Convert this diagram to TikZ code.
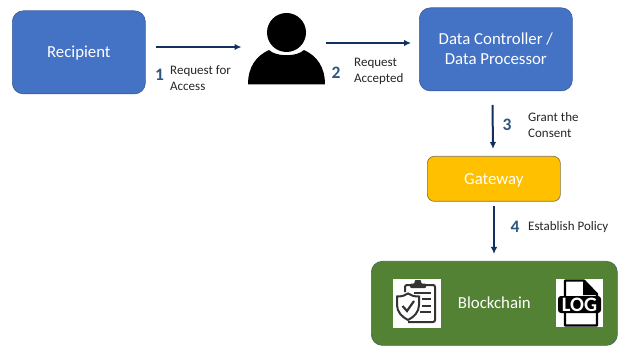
\documentclass[tikz,border=0pt]{standalone}
\usepackage{fontspec}
\setmainfont{Carlito}
\usetikzlibrary{arrows.meta}
\definecolor{boxblue}{HTML}{4472C4}
\definecolor{boxedge}{HTML}{3A5F9E}
\definecolor{gold}{HTML}{FFC000}
\definecolor{goldedge}{HTML}{7F7550}
\definecolor{leaf}{HTML}{548235}
\definecolor{leafedge}{HTML}{3F6A5A}
\definecolor{navy}{HTML}{12305F}
\definecolor{numblue}{HTML}{2F5580}
\definecolor{lab}{HTML}{262626}
\newcommand{\boxline}[1]{\smash{\raisebox{-5.5pt}{#1}}}
\tikzset{
  x=1pt,y=-1pt,
  bigbox/.style={draw=#1,line width=0.7pt,rounded corners=11pt,inner sep=0pt,text=white,font=\fontsize{16.8}{20}\selectfont,align=center,anchor=north west},
  flow/.style={draw=navy,line width=2pt,-{Latex[length=7pt,width=6.5pt]}},
  stepnum/.style={text=numblue,font=\bfseries\fontsize{17.5}{17.5}\selectfont,inner sep=0pt},
  steplabel/.style={text=lab,font=\fontsize{13}{16}\selectfont,align=left,anchor=west,inner sep=0pt},
}
\begin{document}
\begin{tikzpicture}
\useasboundingbox (0,0) rectangle (618,347);
\node[bigbox=boxedge,fill=boxblue,minimum width=133pt,minimum height=83pt] (recipient) at (12,10.5) {\boxline{Recipient}};
\node[bigbox=boxedge,fill=boxblue,minimum width=153pt,minimum height=83pt] (controller) at (419,7.5) {\raisebox{1pt}{Data Controller /}\\\raisebox{1pt}{Data Processor}};
\node[bigbox=goldedge,fill=gold,rounded corners=7pt,minimum width=133pt,minimum height=45pt] (gateway) at (427,156) {\boxline{Gateway}};
\node[bigbox=leafedge,fill=leaf,minimum width=246pt,minimum height=84pt] (blockchain) at (371,261) {\boxline{Blockchain}};
% user icon
\node[inner sep=0pt,minimum width=78pt,minimum height=72pt,anchor=north west] (user) at (247.5,13) {};
\fill[black] (286.5,32.5) circle[radius=19.5];
\fill[black] (248,84.5) .. controls (248,67) and (256,56) .. (269,50) .. controls (276,57) and (297,57) .. (304,50)
  .. controls (317,56) and (325,67) .. (325,84.5) -- cycle;
% clipboard icon
\node[fill=white,inner sep=0pt,minimum width=48pt,minimum height=49pt,anchor=north west] (clip) at (393,278.5) {};
\begin{scope}[line width=2pt,draw=black!80]
\draw[rounded corners=2pt] (405,292) -- (405,285) -- (412,285) (425,285) -- (435,285) -- (435,322) -- (408,322);
\fill[black!80,rounded corners=1pt] (410,288) -- (410,283.5) -- (414.5,283.5) -- (414.5,280) -- (421,280) -- (421,283.5) -- (426,283.5) -- (426,288) -- cycle;
\draw (397,296.5) .. controls (402,296.5) and (405,295.5) .. (408,293.5) .. controls (411,295.5) and (414,296.5) .. (419,296.5) -- (419,305)
  .. controls (419,312) and (414,317) .. (408,320) .. controls (402,317) and (397,312) .. (397,305) -- cycle;
\draw[line width=2.2pt] (402.5,306) -- (407,311) -- (414,301);
\draw (414,292.5) -- (431,292.5) (422,299) -- (431,299) (422,305.5) -- (431,305.5) (420,312) -- (431,312);
\end{scope}
% log icon
\node[fill=white,inner sep=0pt,minimum width=47pt,minimum height=48pt,anchor=north west] (logicon) at (556,279) {};
\draw[black,line width=2.2pt,line join=round] (565,298) -- (565,280.5) -- (584,280.5) -- (597,294) -- (597,298) (565,312) -- (565,325.5) -- (597,325.5) -- (597,312);
\fill[black] (583,280) -- (598,295) -- (583,295) -- cycle;
\fill[black,rounded corners=3pt] (558,296) rectangle (601,313);
\node[text=white,font=\bfseries\fontsize{20.5}{20.5}\selectfont,inner sep=0pt] (logtext) at (579.5,304.8) {LOG};
% connector ends
\coordinate (a1s) at (156,47); \coordinate (a1e) at (241.5,47);
\coordinate (a2s) at (326,43); \coordinate (a2e) at (411,43);
\coordinate (a3s) at (492.5,105); \coordinate (a3e) at (493,149);
\coordinate (a4s) at (494,206.5); \coordinate (a4e) at (494,254);
\draw[flow] (a1s) -- (a1e);
\draw[flow] (a2s) -- (a2e);
\draw[flow] (a3s) -- (a3e);
\draw[flow] (a4s) -- (a4e);
% step numbers and labels
\node[stepnum] (n1) at (159.5,75) {1};
\node[steplabel] (l1) at (170,78.5) {Request for\\Access};
\node[stepnum] (n2) at (336,73) {2};
\node[steplabel] (l2) at (354,71.5) {Request\\Accepted};
\node[stepnum] (n3) at (507,124.5) {3};
\node[steplabel] (l3) at (528,125) {Grant the\\Consent};
\node[stepnum] (n4) at (515,227) {4};
\node[steplabel] (l4) at (528,227) {Establish Policy};
\end{tikzpicture}
\end{document}
